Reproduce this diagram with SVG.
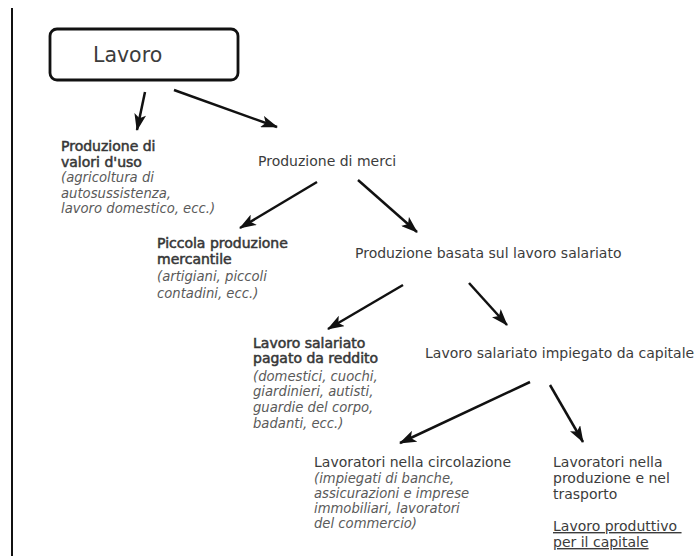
<svg xmlns="http://www.w3.org/2000/svg" width="696" height="556" viewBox="0 0 696 556">
<defs>
<marker id="ah" markerUnits="userSpaceOnUse" markerWidth="17" markerHeight="12" refX="16" refY="6" orient="auto">
<path d="M0,0 L17,6 L0,12 L4,6 z" fill="#111"/>
</marker>
<style>
.t{font-family:"DejaVu Sans",Verdana,sans-serif;font-size:14px;fill:#3c3c3c}
.b{stroke:#3c3c3c;stroke-width:0.55;fill:#333}
.i{font-style:italic;font-size:13.2px;fill:#5a5a5a}
.a{stroke:#111;stroke-width:2.5;fill:none;marker-end:url(#ah)}
</style>
</defs>
<rect width="696" height="556" fill="#fff"/>
<line x1="12" y1="8" x2="12" y2="556" stroke="#111" stroke-width="2"/>
<g id="lavoro">
<rect x="50" y="29" width="188" height="51" rx="7" fill="#fff" stroke="#111" stroke-width="2.8"/>
<text class="t" x="93" y="62" style="font-size:20.5px">Lavoro</text>
</g>
<g id="valori">
<text class="t b" x="61" y="151">Produzione di</text>
<text class="t b" x="61" y="167">valori d'uso</text>
<text class="t i" x="61" y="182">(agricoltura di</text>
<text class="t i" x="61" y="198">autosussistenza,</text>
<text class="t i" x="61" y="213">lavoro domestico, ecc.)</text>
</g>
<g id="merci">
<text class="t" x="258" y="166">Produzione di merci</text>
</g>
<g id="piccola">
<text class="t b" x="157" y="248">Piccola produzione</text>
<text class="t b" x="157" y="264">mercantile</text>
<text class="t i" x="157" y="281">(artigiani, piccoli</text>
<text class="t i" x="157" y="298">contadini, ecc.)</text>
</g>
<g id="basata">
<text class="t" x="355" y="258">Produzione basata sul lavoro salariato</text>
</g>
<g id="reddito">
<text class="t b" x="253" y="348">Lavoro salariato</text>
<text class="t b" x="253" y="363">pagato da reddito</text>
<text class="t i" x="253" y="381">(domestici, cuochi,</text>
<text class="t i" x="253" y="396">giardinieri, autisti,</text>
<text class="t i" x="253" y="412">guardie del corpo,</text>
<text class="t i" x="253" y="428">badanti, ecc.)</text>
</g>
<g id="capitale">
<text class="t" x="425" y="358">Lavoro salariato impiegato da capitale</text>
</g>
<g id="circolazione">
<text class="t" x="314" y="467">Lavoratori nella circolazione</text>
<text class="t i" x="314" y="483">(impiegati di banche,</text>
<text class="t i" x="314" y="498">assicurazioni e imprese</text>
<text class="t i" x="314" y="513">immobiliari, lavoratori</text>
<text class="t i" x="314" y="528">del commercio)</text>
</g>
<g id="produzione">
<text class="t" x="553" y="467">Lavoratori nella</text>
<text class="t" x="553" y="483">produzione e nel</text>
<text class="t" x="553" y="499">trasporto</text>
<text class="t" x="553" y="531" text-decoration="underline">Lavoro produttivo&#160;</text>
<text class="t" x="553" y="547" text-decoration="underline">per il capitale</text>
</g>
<g id="connectors">
<line class="a" x1="145" y1="92" x2="137" y2="130"/>
<line class="a" x1="174" y1="90" x2="277" y2="127"/>
<line class="a" x1="317" y1="182" x2="240" y2="228"/>
<line class="a" x1="358" y1="180" x2="417" y2="232"/>
<line class="a" x1="403" y1="285" x2="328" y2="329"/>
<line class="a" x1="469" y1="283" x2="507" y2="325"/>
<line class="a" x1="530" y1="382" x2="400" y2="443"/>
<line class="a" x1="550" y1="385" x2="583" y2="442"/>
</g>
</svg>
